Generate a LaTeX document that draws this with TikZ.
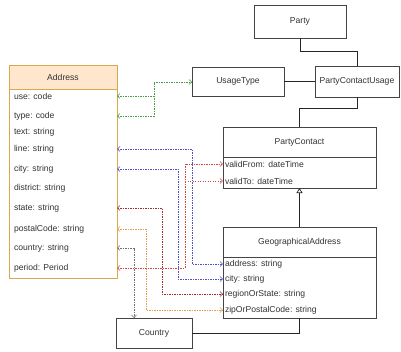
\documentclass[tikz,border=0pt]{standalone}
\usepackage{fontspec}
\setmainfont{Liberation Sans}
\usetikzlibrary{arrows.meta}
\definecolor{cgreen}{HTML}{4A9A4A}
\definecolor{cblue}{HTML}{5050C8}
\definecolor{cdred}{HTML}{A03030}
\definecolor{corange}{HTML}{E0A050}
\definecolor{cgray}{HTML}{707070}
\definecolor{cred}{HTML}{D04848}
\definecolor{addrstroke}{HTML}{D6A94E}
\definecolor{addrfill}{HTML}{FFE6CC}
\definecolor{boxstroke}{HTML}{444444}
\begin{document}
\begin{tikzpicture}[x=1pt,y=-1pt,
  every node/.style={font=\fontsize{8.6}{10}\selectfont, text=black!80, inner sep=0pt, outer sep=0pt},
  cls/.style={draw=boxstroke, line width=0.7pt, fill=white, rectangle, anchor=center},
  acls/.style={draw=addrstroke, line width=0.7pt, rectangle, anchor=center},
  row/.style={anchor=west},
  solidc/.style={draw=black!85, line width=0.7pt},
  dotc/.style={line width=0.6pt, dash pattern=on 1.4pt off 1.1pt},
  tipb/.style={{Straight Barb[length=2.6pt,width=5pt]}-{Straight Barb[length=2.6pt,width=5pt]}},
  tips/.style={{Straight Barb[length=2.6pt,width=5pt]}-},
  tipe/.style={-{Straight Barb[length=2.6pt,width=5pt]}}
]
\useasboundingbox (0,0) rectangle (401,351);

% Address class
\node[acls, fill=addrfill, minimum width=108pt, minimum height=24pt] (addrh) at (63,77) {Address};
\node[acls, fill=white, minimum width=108pt, minimum height=189pt] (addr) at (63,183.5) {};
\node[row] (ause) at (14,96) {use: code};
\node[row] (atype) at (14,116) {type: code};
\node[row] (atext) at (14,132) {text: string};
\node[row] (aline) at (14,149) {line: string};
\node[row] (acity) at (14,169) {city: string};
\node[row] (adist) at (14,188) {district: string};
\node[row] (astate) at (14,208) {state: string};
\node[row] (apost) at (14,229) {postalCode: string};
\node[row] (acountry) at (14,248) {country: string};
\node[row] (aperiod) at (14,268) {period: Period};

% Other classes
\node[cls, minimum width=92pt, minimum height=33pt] (party) at (300,21.5) {Party};
\node[cls, minimum width=92pt, minimum height=29pt] (usage) at (238,81.5) {UsageType};
\node[cls, minimum width=84pt, minimum height=31pt] (pcu) at (357,81.5) {PartyContactUsage};

\node[cls, minimum width=153pt, minimum height=30pt] (pch) at (299.5,142) {PartyContact};
\node[cls, minimum width=153pt, minimum height=31pt] (pc) at (299.5,172.5) {};
\node[row] (pfrom) at (225,164) {validFrom: dateTime};
\node[row] (pto) at (225,181) {validTo: dateTime};

\node[cls, minimum width=153pt, minimum height=30pt] (geoh) at (299.5,242) {GeographicalAddress};
\node[cls, minimum width=153pt, minimum height=61pt] (geo) at (299.5,287.5) {};
\node[row] (gaddr) at (225,264) {address: string};
\node[row] (gcity) at (225,279) {city: string};
\node[row] (greg) at (225,294) {regionOrState: string};
\node[row] (gzip) at (225,310) {zipOrPostalCode: string};

\node[cls, minimum width=76pt, minimum height=30pt] (country) at (154,333) {Country};

\coordinate (ctop) at (134,318);
\coordinate (pbr) at (185,181);

% Solid connectors
\draw[solidc] (party.south) -- (party.south |- 0,51) -- (pcu.north |- 0,51) -- (pcu.north);
\draw[solidc] (usage.east) -- (pcu.west |- usage.east);
\draw[solidc] (pcu.south) -- (pcu.south |- 0,108) -- (pch.north |- 0,108) -- (pch.north);
\draw[solidc, -{Triangle[open,length=5pt,width=6pt]}] (geoh.north) -- (pc.south);
\draw[solidc] (geo.south) -- (geo.south |- 0,333) -- (country.east);

% Dotted connectors
\draw[dotc, cgreen, tipb] (addr.east |- ause) -- (154,96) -- (154,82) -- (usage.west |- 0,82);
\draw[dotc, cgreen, tips] (addr.east |- atype) -- (154,116) -- (154,96);
\draw[dotc, cblue, tipb] (addr.east |- aline) -- (192,149) -- (192,264) -- (geo.west |- gaddr);
\draw[dotc, cblue, tipb] (addr.east |- acity) -- (178,169) -- (178,279) -- (geo.west |- gcity);
\draw[dotc, cdred, tipb] (addr.east |- astate) -- (162,208) -- (162,294) -- (geo.west |- greg);
\draw[dotc, corange, tipb] (addr.east |- apost) -- (146,229) -- (146,310) -- (geo.west |- gzip);
\draw[dotc, cgray, tipb] (addr.east |- acountry) -- (134,248) -- (ctop);
\draw[dotc, cred, tipb] (addr.east |- aperiod) -- (185,268) -- (185,164) -- (pc.west |- pfrom);
\draw[dotc, cred, tipe] (pbr) -- (pc.west |- pto);
\end{tikzpicture}
\end{document}
